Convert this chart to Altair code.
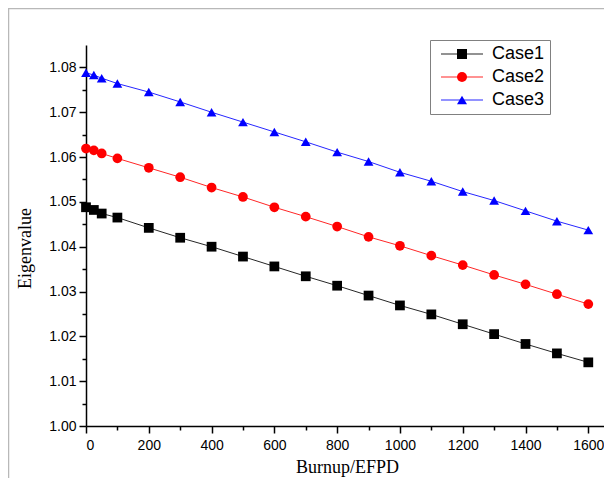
import altair as alt
import pandas as pd

# ---- data ----
burnup = [0, 25, 50, 100, 200, 300, 400, 500, 600, 700, 800, 900, 1000,
          1100, 1200, 1300, 1400, 1500, 1600]
case1 = [1.0488, 1.0482, 1.0474, 1.0465, 1.0442, 1.0420, 1.0400, 1.0378,
         1.0356, 1.0334, 1.0313, 1.0291, 1.0269, 1.0249, 1.0227, 1.0205,
         1.0183, 1.0162, 1.0142]
case2 = [1.0619, 1.0615, 1.0608, 1.0597, 1.0576, 1.0555, 1.0532, 1.0511,
         1.0488, 1.0467, 1.0445, 1.0422, 1.0402, 1.0380, 1.0359, 1.0337,
         1.0316, 1.0294, 1.0272]
case3 = [1.0788, 1.0783, 1.0776, 1.0764, 1.0745, 1.0723, 1.0700, 1.0678,
         1.0656, 1.0634, 1.0611, 1.0590, 1.0566, 1.0546, 1.0523, 1.0503,
         1.0480, 1.0457, 1.0437]
cases = ["Case1", "Case2", "Case3"]
x_ticks = [0, 100, 200, 300, 400, 500, 600, 700, 800, 900, 1000, 1100,
           1200, 1300, 1400, 1500, 1600]
y_ticks = [1.000, 1.005, 1.010, 1.015, 1.020, 1.025, 1.030, 1.035, 1.040,
           1.045, 1.050, 1.055, 1.060, 1.065, 1.070, 1.075, 1.080]

# ---- styles ----
colors = ["#000000", "#ff0000", "#0000ff"]
shapes = ["square", "circle", "triangle-up"]

rows = []
for name, vals in zip(cases, [case1, case2, case3]):
    for b, v in zip(burnup, vals):
        rows.append({"burnup": b, "eigen": v, "case": name})
df = pd.DataFrame(rows)

W, H = 518, 381

x_enc = alt.X(
    "burnup:Q",
    scale=alt.Scale(domain=[0, 1650], nice=False, zero=False),
    axis=alt.Axis(
        values=x_ticks,
        format="d",
        labelExpr="datum.value % 200 === 0 ? datum.label : ''",
        tickSize={"condition": {"test": "datum.value % 200 === 0", "value": 7}, "value": 4},
        title="Burnup/EFPD",
        titleX=261,
        titleY=41,
        titleBaseline="middle",
        labelPadding=5,
        grid=False,
    ),
)
y_enc = alt.Y(
    "eigen:Q",
    scale=alt.Scale(domain=[1.0, 1.085], nice=False, zero=False),
    axis=alt.Axis(
        values=y_ticks,
        format=".2f",
        labelExpr="round(datum.value * 1000) % 10 === 0 ? datum.label : ''",
        tickSize={"condition": {"test": "round(datum.value * 1000) % 10 === 0", "value": 7}, "value": 4},
        title="Eigenvalue",
        titleX=-61,
        titleY=203,
        titleAngle=270,
        titleBaseline="middle",
        titleAlign="center",
        labelPadding=3,
        grid=False,
    ),
)

# marker legend (with box) and a line legend drawn at the same place
leg_markers = alt.Legend(title=None, orient="none", legendX=344, legendY=-5,
                         strokeColor="#808080", zindex=2)
leg_lines = alt.Legend(title=None, orient="none", legendX=344, legendY=-5,
                       labelOpacity=0, symbolType="M-4.2,0H4.2", zindex=1)

color_enc = alt.Color("case:N", scale=alt.Scale(domain=cases, range=colors), legend=leg_markers)
shape_enc = alt.Shape("case:N", scale=alt.Scale(domain=cases, range=shapes), legend=leg_markers)

base = alt.Chart(df)

lines = base.transform_calculate(series="datum.case").mark_line(
    strokeWidth=1, opacity=0.85
).encode(
    x=x_enc, y=y_enc,
    stroke=alt.Stroke("series:N", scale=alt.Scale(range=colors), legend=leg_lines),
)
points = base.mark_point(filled=True, opacity=1, size=95).encode(
    x=x_enc, y=y_enc, color=color_enc, shape=shape_enc,
)

frame_df = pd.DataFrame({"k": [0]})
frame_top = alt.Chart(frame_df).mark_rule(color="#b8b8b8", strokeWidth=1.5).encode(
    x=alt.value(-78), x2=alt.value(W), y=alt.value(-36.5)
)
frame_left = alt.Chart(frame_df).mark_rule(color="#b8b8b8", strokeWidth=1.5).encode(
    x=alt.value(-77.5), y=alt.value(-37), y2=alt.value(H + 52)
)

chart = alt.layer(frame_top, frame_left, lines, points).properties(
    width=W, height=H,
    autosize="none",
    padding={"left": 78, "top": 37, "right": 0, "bottom": 52},
).configure_view(stroke=None).configure_axis(
    domainColor="#000000", domainWidth=1.5,
    tickColor="#000000", tickWidth=1.5,
    labelColor="#000000", labelFont="Liberation Sans", labelFontSize=14,
    titleColor="#000000", titleFont="Liberation Serif", titleFontSize=18,
    titleFontWeight="normal",
).configure_legend(
    labelFont="Liberation Sans", labelFontSize=18, labelColor="#000000",
    padding=5, symbolSize=100, rowPadding=5, symbolStrokeWidth=1,
    symbolOffset=18, labelOffset=21,
)

chart.save("out.html", embed_options={"renderer": "svg", "actions": False})
